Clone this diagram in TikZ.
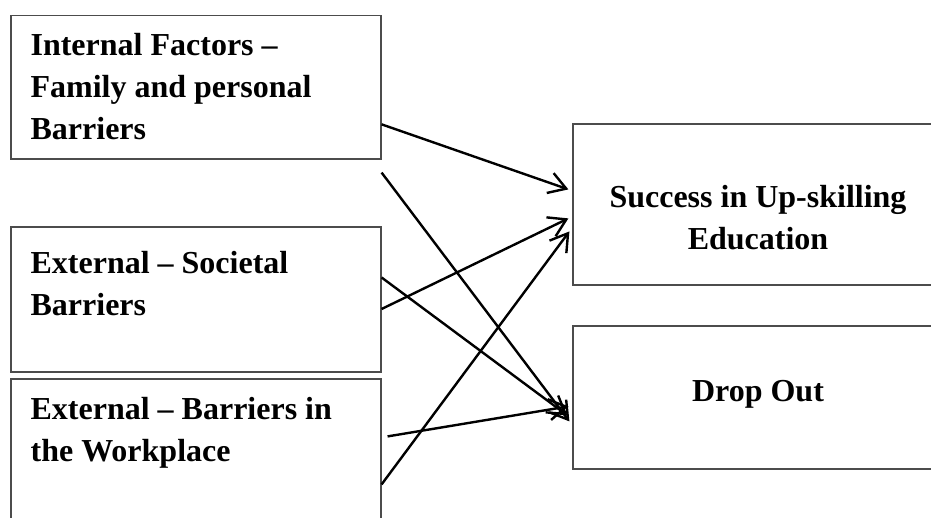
\documentclass[tikz,border=0pt]{standalone}
\usepackage{fontspec}
\setmainfont{Liberation Serif}
\usetikzlibrary{arrows.meta}
\begin{document}
\begin{tikzpicture}
[x=1pt,y=-1pt,
  boxdecorate/.style={shape=rectangle,draw=black!70,line width=1.2pt,inner sep=0pt},%
  textdecorate/.style={inner sep=0pt,font=\fontsize{32pt}{42pt}\selectfont\bfseries},%
  linedecorate/.style={-{Straight Barb[length=17pt,width=21pt]},line width=2.4pt}]
\useasboundingbox (0,0) rectangle (931,518);
\clip (0,0) rectangle (931,518);
% boxes
\node (intf) at (196,87.35) [boxdecorate,minimum width=370pt,minimum height=143.3pt] {};
\node [textdecorate,align=left,anchor=north west] at ([xshift=20pt,yshift=-17.6pt]intf.north west) {Internal Factors --\\Family and personal\\Barriers};
\node (soc) at (196,299.5) [boxdecorate,minimum width=370pt,minimum height=145pt] {};
\node [textdecorate,align=left,anchor=north west] at ([xshift=20pt,yshift=-24.3pt]soc.north west) {External -- Societal\\Barriers};
\node (work) at (196,464) [boxdecorate,minimum width=370pt,minimum height=170pt] {};
\node [textdecorate,align=left,anchor=north west] at ([xshift=20pt,yshift=-18.3pt]work.north west) {External -- Barriers in\\the Workplace};
\node (succ) at (759,204.5) [boxdecorate,minimum width=372pt,minimum height=161pt] {};
\node [textdecorate,align=center,anchor=north] at ([xshift=-1pt,yshift=-61.3pt]succ.north) {Success in Up-skilling\\Education};
\node (drop) at (759,397.5) [boxdecorate,minimum width=372pt,minimum height=143pt] {};
\node [textdecorate,anchor=base] at ([xshift=-1pt,yshift=-76pt]drop.north) {Drop Out};
% arrows
\path
([yshift=-37pt]intf.east) edge[linedecorate] ([xshift=-4pt,yshift=-66pt]succ.north west)
([yshift=-13pt]intf.south east) edge[linedecorate] ([xshift=-3pt,yshift=-96pt]drop.north west)
([yshift=-9.5pt]soc.east) edge[linedecorate] ([xshift=-4pt,yshift=-95pt]succ.north west)
([yshift=22pt]soc.east) edge[linedecorate] ([xshift=-5pt,yshift=-90pt]drop.north west)
([xshift=6pt,yshift=-58pt]work.north east) edge[linedecorate] ([xshift=-4pt,yshift=-81pt]drop.north west)
([yshift=-106pt]work.north east) edge[linedecorate] ([xshift=-3pt,yshift=-108pt]succ.north west);
\end{tikzpicture}
\end{document}
